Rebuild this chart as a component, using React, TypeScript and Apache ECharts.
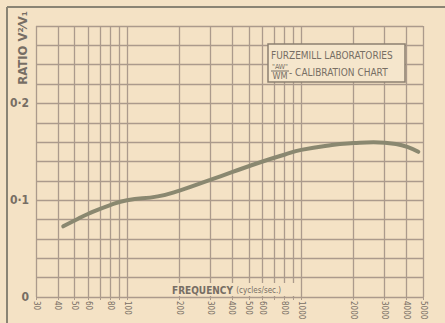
import React, { useEffect, useRef } from 'react';
import * as echarts from 'echarts';

const frequencies = [43, 50, 60, 80, 100, 150, 200, 300, 400, 600, 800, 1000, 1500, 2000, 2600, 3500, 4700];
const ratios = [0.073, 0.079, 0.086, 0.095, 0.1, 0.104, 0.11, 0.121, 0.129, 0.14, 0.147, 0.152, 0.157, 0.159, 0.16, 0.158, 0.15];
const gridFrequencies = [30, 40, 50, 60, 70, 80, 90, 100, 200, 300, 400, 500, 600, 700, 800, 900, 1000, 2000, 3000, 4000, 5000];
const labelFrequencies = [30, 40, 50, 60, 80, 100, 200, 300, 400, 500, 600, 800, 1000, 2000, 3000, 4000, 5000];
const yTickLabels: [number, string][] = [[0, '0'], [0.1, '0·1'], [0.2, '0·2']];

const PAPER = '#f4e2c5';
const GRID = '#ab9a8c';
const INK = '#776e64';
const FONT = 'DejaVu Sans Condensed';

export default function App() {
  const ref = useRef<HTMLDivElement>(null);
  useEffect(() => {
    document.body.style.margin = '0';
    const chart = echarts.init(ref.current!, null, { renderer: 'svg' });
    chart.setOption({
      animation: false,
      backgroundColor: PAPER,
      grid: { left: 36, right: 22, top: 26, bottom: 26 },
      xAxis: {
        type: 'log',
        logBase: 10,
        min: 30,
        max: 5000,
        axisLine: { show: false },
        axisTick: { show: true, customValues: gridFrequencies, length: 3, lineStyle: { color: GRID } },
        splitLine: { show: true, lineStyle: { color: GRID, width: 1.3 } },
        minorSplitLine: { show: false },
        axisLabel: {
          customValues: labelFrequencies,
          rotate: -90,
          margin: 4,
          fontSize: 8,
          fontFamily: FONT,
          color: INK,
          formatter: (v: number) => String(Math.round(v)),
        },
      },
      yAxis: {
        type: 'value',
        min: 0,
        max: 0.28,
        interval: 0.02,
        axisLine: { show: false },
        axisTick: { show: false },
        splitLine: { show: true, lineStyle: { color: GRID, width: 1.3 } },
        axisLabel: {
          margin: 7,
          fontSize: 12,
          fontWeight: 'bold',
          fontFamily: FONT,
          color: INK,
          formatter: (v: number) => {
            const hit = yTickLabels.find(([val]) => Math.abs(val - v) < 1e-6);
            return hit ? hit[1] : '';
          },
        },
      },
      series: [
        {
          type: 'line',
          smooth: 0.5,
          showSymbol: false,
          data: frequencies.map((f, i) => [f, ratios[i]]),
          lineStyle: { color: '#8a8870', width: 4, cap: 'round' },
          z: 5,
        },
      ],
      graphic: [
        { type: 'line', z: 20, shape: { x1: 7, y1: 7, x2: 445, y2: 7 }, style: { stroke: '#8a8474', lineWidth: 2 } },
        { type: 'line', z: 20, shape: { x1: 7, y1: 7, x2: 7, y2: 323 }, style: { stroke: '#8a8474', lineWidth: 2 } },
        {
          type: 'text', z: 20, x: 22, y: 48, rotation: Math.PI / 2,
          style: { text: 'RATIO V²⁄V₁', fill: INK, font: `bold 13px "${FONT}"`, align: 'center', verticalAlign: 'middle' },
        },
        { type: 'rect', z: 20, shape: { x: 268, y: 44, width: 137, height: 38 }, style: { fill: '#f5e6cc', stroke: '#8c8070', lineWidth: 1.5 } },
        {
          type: 'text', z: 21, x: 271, y: 55,
          style: { text: 'FURZEMILL LABORATORIES', fill: INK, font: `10px "${FONT}"`, verticalAlign: 'middle' },
        },
        {
          type: 'text', z: 21, x: 280, y: 67,
          style: { text: '"AW"', fill: INK, font: `7px "${FONT}"`, align: 'center', verticalAlign: 'middle' },
        },
        { type: 'line', z: 21, shape: { x1: 271, y1: 71, x2: 289, y2: 71 }, style: { stroke: INK, lineWidth: 1 } },
        {
          type: 'text', z: 21, x: 280, y: 76,
          style: { text: 'WM', fill: INK, font: `9px "${FONT}"`, align: 'center', verticalAlign: 'middle' },
        },
        {
          type: 'text', z: 21, x: 289, y: 72,
          style: { text: '- CALIBRATION CHART', fill: INK, font: `10px "${FONT}"`, verticalAlign: 'middle' },
        },
        { type: 'rect', z: 20, shape: { x: 168, y: 283, width: 130, height: 13 }, style: { fill: PAPER } },
        {
          type: 'text', z: 21, x: 172, y: 290,
          style: {
            text: '{a|FREQUENCY} {b|(cycles/sec.)}',
            verticalAlign: 'middle',
            rich: {
              a: { fill: INK, font: `bold 10px "${FONT}"` },
              b: { fill: INK, font: `8px "${FONT}"` },
            },
          },
        },
      ],
    });
    return () => chart.dispose();
  }, []);
  return <div ref={ref} style={{ width: 445, height: 323 }} />;
}
